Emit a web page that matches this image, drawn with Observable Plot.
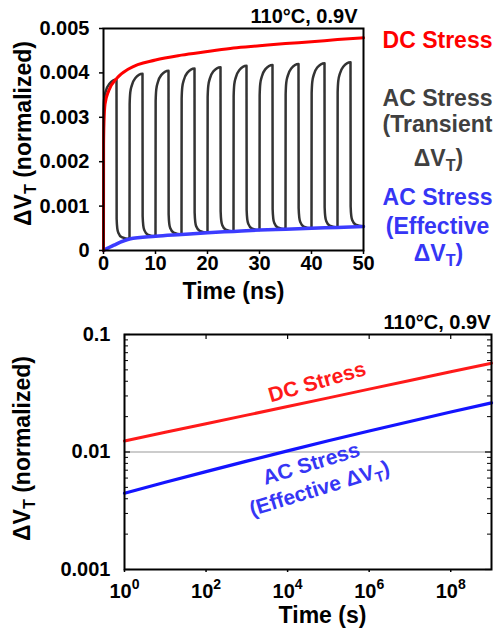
<!DOCTYPE html>
<html><head><meta charset="utf-8">
<script src="https://cdn.jsdelivr.net/npm/d3@7"></script>
<script src="https://cdn.jsdelivr.net/npm/@observablehq/plot@0.6"></script>
<style>
body{margin:0;background:#fff;}
#wrap{width:498px;}
#wrap svg{display:block;}
</style></head><body><div id="wrap"></div>
<script>
const FONT = "'Liberation Sans', Arial, Helvetica, sans-serif";

// ---------- Top panel (linear, ns) ----------
const dcTime = [0, 0.02, 0.1, 0.3, 1, 2.5, 5, 10, 15, 20, 25, 30, 35, 40, 45, 50];
const dcShift = [0, 0.0024, 0.0029, 0.0033, 0.0036, 0.00387, 0.0041, 0.00429, 0.0044, 0.00448, 0.00456, 0.00461, 0.00466, 0.0047, 0.00475, 0.00479];
const effTime = [0, 2, 5, 10, 15, 20, 25, 30, 35, 40, 45, 50];
const effShift = [0, 0.00012, 0.00026, 0.00032, 0.00036, 0.0004, 0.00043, 0.00046, 0.00048, 0.0005, 0.00052, 0.00054];
// AC transient: 5 ns period, 50% duty
const cycleStart = [0, 5, 10, 15, 20, 25, 30, 35, 40, 45];
const cyclePeak = [0.00385, 0.00398, 0.00405, 0.0041, 0.00413, 0.00416, 0.00418, 0.0042, 0.00422, 0.00424];
const cycleLow = [0, 0.00026, 0.00032, 0.00036, 0.0004, 0.00043, 0.00046, 0.00048, 0.0005, 0.00052, 0.00054];
const halfPeriod = 2.5;
// one pulse shape
const riseDt = [0, 0.03, 0.15, 0.45, 1.1, 2.5];
const riseDeficit = [null, 0.00068, 0.00042, 0.00026, 0.0001, 0];   // below peak
const fallDt = [0, 0.03, 0.15, 0.35, 1.0, 2.5];
const fallExcess = [null, 0.00045, 0.00024, 0.00014, 0.00004, 0];    // above next low

const xTicksTop = [0, 10, 20, 30, 40, 50];
const yTicksTop = [0, 0.001, 0.002, 0.003, 0.004, 0.005];
const yTickLabelsTop = ["0", "0.001", "0.002", "0.003", "0.004", "0.005"];

// ---------- Bottom panel (log-log, s) ----------
const logTime = [1, 1e1, 1e2, 1e3, 1e4, 1e5, 1e6, 1e7, 1e8, 1e9];
const dcLong = [0.0124, 0.0147, 0.0174, 0.0206, 0.0244, 0.0289, 0.0343, 0.0406, 0.0482, 0.057];
const acLong = [0.00446, 0.00552, 0.00681, 0.00836, 0.01023, 0.01245, 0.0151, 0.0182, 0.0219, 0.0262];
const xTicksBottom = [1, 1e2, 1e4, 1e6, 1e8];
const xTickLabelsBottom = ["10^0", "10^2", "10^4", "10^6", "10^8"];
const yTicksBottom = [0.001, 0.01, 0.1];
const yTickLabelsBottom = ["0.001", "0.01", "0.1"];
const yMinorBottom = [0.002,0.003,0.004,0.005,0.006,0.007,0.008,0.009,0.02,0.03,0.04,0.05,0.06,0.07,0.08,0.09];

// ---------- build tables ----------
const dcRows = dcTime.map((t, i) => ({t, v: dcShift[i]}));
const effRows = effTime.map((t, i) => ({t, v: effShift[i]}));
const acRows = [];
cycleStart.forEach((s, k) => {
  const P = cyclePeak[k], L = cycleLow[k], Ln = cycleLow[k + 1];
  riseDt.forEach((dt, i) => acRows.push({t: s + dt, v: i === 0 ? L : P - riseDeficit[i]}));
  fallDt.forEach((dt, j) => { if (j > 0 && !(j === fallDt.length - 1 && k < cycleStart.length - 1)) acRows.push({t: s + halfPeriod + dt, v: Ln + fallExcess[j]}); });
});
const dcLongRows = logTime.map((t, i) => ({t, v: dcLong[i]}));
const acLongRows = logTime.map((t, i) => ({t, v: acLong[i]}));

const lab = (ticks, labels) => d => labels[ticks.indexOf(d)];
const txt = (s, o) => Plot.text([s], {text: d => d, fontWeight: "bold", textAnchor: "middle", lineAnchor: "middle", ...o});

const RED = "#ff0000", GREY = "#404040", BLUE_T = "#3636f5";

const topPlot = Plot.plot({
  width: 498, height: 310,
  marginLeft: 103, marginRight: 135, marginTop: 28, marginBottom: 60,
  style: {fontFamily: FONT, fontWeight: "bold", fontSize: "20px", color: "#000", background: "#fff"},
  x: {type: "linear", domain: [0, 50]},
  y: {type: "linear", domain: [0, 0.005]},
  marks: [
    Plot.line(acRows, {x: "t", y: "v", stroke: "#333", strokeWidth: 2.5, curve: "monotone-x"}),
    Plot.line(effRows, {x: "t", y: "v", stroke: "#3c3cff", strokeWidth: 3.5, curve: "monotone-x"}),
    Plot.line(dcRows, {x: "t", y: "v", stroke: RED, strokeWidth: 3, curve: "monotone-x"}),
    Plot.frame({stroke: "#000", strokeWidth: 2}),
    Plot.axisX({ticks: xTicksTop, tickSize: 4, tickPadding: 1, label: null, tickFormat: d => String(d), strokeWidth: 1.5}),
    Plot.axisY({ticks: yTicksTop, tickSize: 4, tickPadding: 10, label: null, tickFormat: lab(yTicksTop, yTickLabelsTop), strokeWidth: 1.5}),
    txt("110°C, 0.9V", {frameAnchor: "top-right", textAnchor: "end", dx: -6, dy: -11.5, fontSize: 20}),
    txt("Time (ns)", {frameAnchor: "bottom", dy: 41, fontSize: 23}),
    txt("ΔV_T (normalized)", {frameAnchor: "left", rotate: -90, dx: -80, dy: -6, fontSize: 23}),
    txt("DC Stress", {frameAnchor: "top-right", dx: 74, dy: 12, fontSize: 23, fill: RED}),
    txt("AC Stress", {frameAnchor: "top-right", dx: 74, dy: 70, fontSize: 23, fill: GREY}),
    txt("(Transient", {frameAnchor: "top-right", dx: 74, dy: 96, fontSize: 23, fill: GREY}),
    txt("ΔV_T)", {frameAnchor: "top-right", dx: 75, dy: 130, fontSize: 23, fill: GREY}),
    txt("AC Stress", {frameAnchor: "top-right", dx: 74, dy: 169, fontSize: 23, fill: BLUE_T}),
    txt("(Effective", {frameAnchor: "top-right", dx: 74, dy: 198, fontSize: 23, fill: BLUE_T}),
    txt("ΔV_T)", {frameAnchor: "top-right", dx: 75, dy: 225, fontSize: 23, fill: BLUE_T})
  ]
});

const PW = 498 - 124 - 7, PH = 320 - 24 - 61;
const botPlot = Plot.plot({
  width: 498, height: 320,
  marginLeft: 124, marginRight: 7, marginTop: 24, marginBottom: 61,
  style: {fontFamily: FONT, fontWeight: "bold", fontSize: "20px", color: "#000", background: "#fff"},
  x: {type: "log", domain: [1, 1e9]},
  y: {type: "log", domain: [0.001, 0.1]},
  marks: [
    Plot.ruleY([0.01], {stroke: "#999", strokeWidth: 1}),
    Plot.line(dcLongRows, {x: "t", y: "v", stroke: "#ff1a1a", strokeWidth: 3}),
    Plot.line(acLongRows, {x: "t", y: "v", stroke: "#1414ff", strokeWidth: 3.2}),
    Plot.tickY(yTicksBottom, {y: d => d, insetRight: PW - 6, stroke: "#000", strokeWidth: 1.2}),
    Plot.tickY(yTicksBottom, {y: d => d, insetLeft: PW - 6, stroke: "#000", strokeWidth: 1.2}),
    Plot.tickY(yMinorBottom, {y: d => d, insetRight: PW - 4, stroke: "#000", strokeWidth: 1}),
    Plot.tickY(yMinorBottom, {y: d => d, insetLeft: PW - 4, stroke: "#000", strokeWidth: 1}),
    Plot.tickX(xTicksBottom, {x: d => d, insetBottom: PH - 5, stroke: "#000", strokeWidth: 1.2}),
    Plot.frame({stroke: "#000", strokeWidth: 2}),
    Plot.axisX({ticks: xTicksBottom, tickSize: 3, tickPadding: 11, label: null, tickFormat: lab(xTicksBottom, xTickLabelsBottom), strokeWidth: 1.5}),
    Plot.axisY({ticks: yTicksBottom, tickSize: 0, tickPadding: 14, label: null, tickFormat: lab(yTicksBottom, yTickLabelsBottom)}),
    txt("110°C, 0.9V", {frameAnchor: "top-right", textAnchor: "end", dx: -1, dy: -11.5, fontSize: 20}),
    txt("Time (s)", {frameAnchor: "bottom", dx: 14.5, dy: 46, fontSize: 23}),
    txt("ΔV_T (normalized)", {frameAnchor: "left", rotate: -90, dx: -101.5, dy: -3.5, fontSize: 23}),
    txt("DC Stress", {frameAnchor: "top-left", rotate: -16, dx: 192.7, dy: 47.7, fontSize: 21, fill: "#ff1a1a"}),
    txt("AC Stress", {frameAnchor: "top-left", rotate: -17, dx: 186.7, dy: 129.3, fontSize: 21, fill: BLUE_T}),
    txt("(Effective ΔV_T)", {frameAnchor: "top-left", rotate: -17, dx: 195, dy: 154, fontSize: 21, fill: BLUE_T})
  ]
});

// sub/superscript rendering: "_X" -> subscript X, "^X" -> superscript X
function richify(svg) {
  svg.querySelectorAll("text").forEach(t => {
    const s = t.textContent;
    if (!/[_^]/.test(s)) return;
    const fs = parseFloat(getComputedStyle(t).fontSize) || 20;
    while (t.firstChild) t.removeChild(t.firstChild);
    const parts = s.split(/([_^].)/).filter(p => p !== "");
    let shift = 0;
    parts.forEach(p => {
      const ts = document.createElementNS("http://www.w3.org/2000/svg", "tspan");
      if (p[0] === "_" || p[0] === "^") {
        const target = p[0] === "_" ? 0.22 * fs : -0.45 * fs;
        ts.setAttribute("dy", target - shift);
        shift = target;
        ts.setAttribute("font-size", (0.7 * fs).toFixed(1));
        ts.textContent = p[1];
      } else {
        if (shift !== 0) ts.setAttribute("dy", -shift);
        shift = 0;
        ts.textContent = p;
      }
      t.appendChild(ts);
    });
  });
}

const wrap = document.getElementById("wrap");
wrap.appendChild(topPlot);
wrap.appendChild(botPlot);
richify(topPlot);
richify(botPlot);
</script></body></html>
